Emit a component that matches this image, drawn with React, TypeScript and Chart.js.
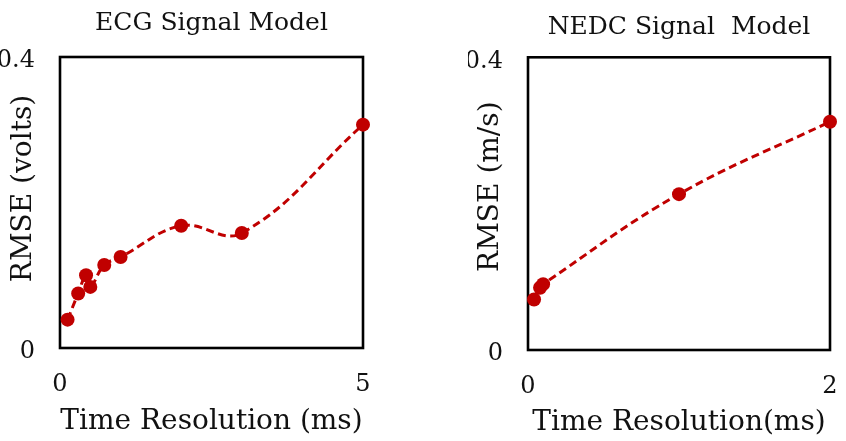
import React, { useEffect, useRef } from 'react';
import { Chart, registerables } from 'chart.js';

Chart.register(...registerables);

// ---- Data ----
const ecgTime = [0.125, 0.3, 0.43, 0.5, 0.73, 1, 2, 3, 5];
const ecgRmse = [0.039, 0.075, 0.1, 0.084, 0.114, 0.125, 0.168, 0.158, 0.307];
const nedcTime = [0.04, 0.08, 0.1, 1, 2];
const nedcRmse = [0.069, 0.085, 0.09, 0.213, 0.312];
const yTickValues = [0, 0.4];
const ecgXTickValues = [0, 5];
const nedcXTickValues = [0, 2];

const FONT = '"DejaVu Serif", serif';
const RED = '#C00000';
const TEXT = '#111';

const boxPlugin = {
  id: 'plotBox',
  beforeDatasetsDraw(chart: any) {
    const { ctx, chartArea: a } = chart;
    ctx.save();
    ctx.strokeStyle = '#000';
    ctx.lineWidth = 2.6;
    ctx.strokeRect(a.left, a.top, a.right - a.left, a.bottom - a.top);
    ctx.restore();
  },
};

function makeYTitlePlugin(text: string, x: number, yOffset: number) {
  return {
    id: 'yTitleText',
    afterDraw(chart: any) {
      const { ctx, chartArea: a } = chart;
      const cy = (a.top + a.bottom) / 2 + yOffset;
      ctx.save();
      ctx.translate(x, cy);
      ctx.rotate(-Math.PI / 2);
      ctx.fillStyle = TEXT;
      ctx.font = `28px ${FONT}`;
      ctx.textAlign = 'center';
      ctx.textBaseline = 'middle';
      ctx.fillText(text, 0, 0);
      ctx.restore();
    },
  };
}

interface PanelProps {
  title: string;
  yTitle: string;
  yTitleX: number;
  yTitleOffset: number;
  xTitle: string;
  xs: number[];
  ys: number[];
  xTicks: number[];
  xMax: number;
  padLeft: number;
  padRight: number;
  titlePadTop: number;
  titlePadBottom: number;
  xHeight: number;
  xTitlePadBottom: number;
}

function Panel(p: PanelProps) {
  const ref = useRef<HTMLCanvasElement>(null);
  useEffect(() => {
    if (!ref.current) return;
    const data = p.xs.map((x, i) => ({ x, y: p.ys[i] }));
    const chart = new Chart(ref.current, {
      type: 'line',
      data: {
        datasets: [
          {
            data,
            borderColor: RED,
            backgroundColor: RED,
            borderWidth: 3,
            borderDash: [8, 4.5],
            tension: 0.4,
            pointRadius: 7,
            pointBackgroundColor: RED,
            pointBorderWidth: 0,
            clip: false as any,
          },
        ],
      },
      options: {
        animation: false,
        responsive: true,
        maintainAspectRatio: false,
        layout: { padding: { left: p.padLeft, right: p.padRight, top: 0, bottom: 0 } },
        plugins: {
          legend: { display: false },
          tooltip: { enabled: false },
          title: {
            display: true,
            text: p.title,
            fullSize: false,
            color: TEXT,
            font: { family: FONT, size: 25, weight: 'normal' as any },
            padding: { top: p.titlePadTop, bottom: p.titlePadBottom },
          },
        },
        scales: {
          x: {
            type: 'linear',
            min: 0,
            max: p.xMax,
            grid: { display: false, drawTicks: false },
            border: { display: false },
            afterBuildTicks: (s: any) => {
              s.ticks = p.xTicks.map((v) => ({ value: v }));
            },
            afterFit: (s: any) => {
              s.height = p.xHeight;
            },
            ticks: {
              color: TEXT,
              padding: 4,
              maxRotation: 0,
              font: { family: FONT, size: 24, lineHeight: 2.75 },
              callback: (v: any) => String(v),
            },
            title: {
              display: true,
              text: p.xTitle,
              color: TEXT,
              font: { family: FONT, size: 28 },
              padding: { top: 0, bottom: p.xTitlePadBottom },
            },
          },
          y: {
            type: 'linear',
            min: 0,
            max: 0.4,
            grid: { display: false, drawTicks: false },
            border: { display: false },
            afterBuildTicks: (s: any) => {
              s.ticks = yTickValues.map((v) => ({ value: v }));
            },
            afterFit: (s: any) => {
              s.width = 60;
            },
            ticks: {
              color: TEXT,
              padding: 25,
              labelOffset: 4,
              font: { family: FONT, size: 24 },
              callback: (v: any) => String(v),
            },
            title: { display: false },
          },
        },
      },
      plugins: [boxPlugin, makeYTitlePlugin(p.yTitle, p.yTitleX, p.yTitleOffset)],
    });
    return () => chart.destroy();
  }, []);
  return (
    <div style={{ position: 'relative', width: 423, height: 441 }}>
      <canvas ref={ref} />
    </div>
  );
}

export default function App() {
  return (
    <div
      style={{
        position: 'absolute',
        left: 0,
        top: 0,
        width: 846,
        height: 441,
        display: 'flex',
        background: '#fff',
      }}
    >
      <Panel
        title="ECG Signal Model"
        yTitle="RMSE (volts)"
        yTitleX={23.5}
        yTitleOffset={-14}
        xTitle="Time Resolution (ms)"
        xs={ecgTime}
        ys={ecgRmse}
        xTicks={ecgXTickValues}
        xMax={5}
        padLeft={0}
        padRight={60}
        titlePadTop={8}
        titlePadBottom={19}
        xHeight={93}
        xTitlePadBottom={2.5}
      />
      <Panel
        title="NEDC Signal  Model"
        yTitle="RMSE (m/s)"
        yTitleX={67.7}
        yTitleOffset={-17}
        xTitle="Time Resolution(ms)"
        xs={nedcTime}
        ys={nedcRmse}
        xTicks={nedcXTickValues}
        xMax={2}
        padLeft={45}
        padRight={16}
        titlePadTop={12.8}
        titlePadBottom={14.5}
        xHeight={91}
        xTitlePadBottom={1}
      />
    </div>
  );
}
